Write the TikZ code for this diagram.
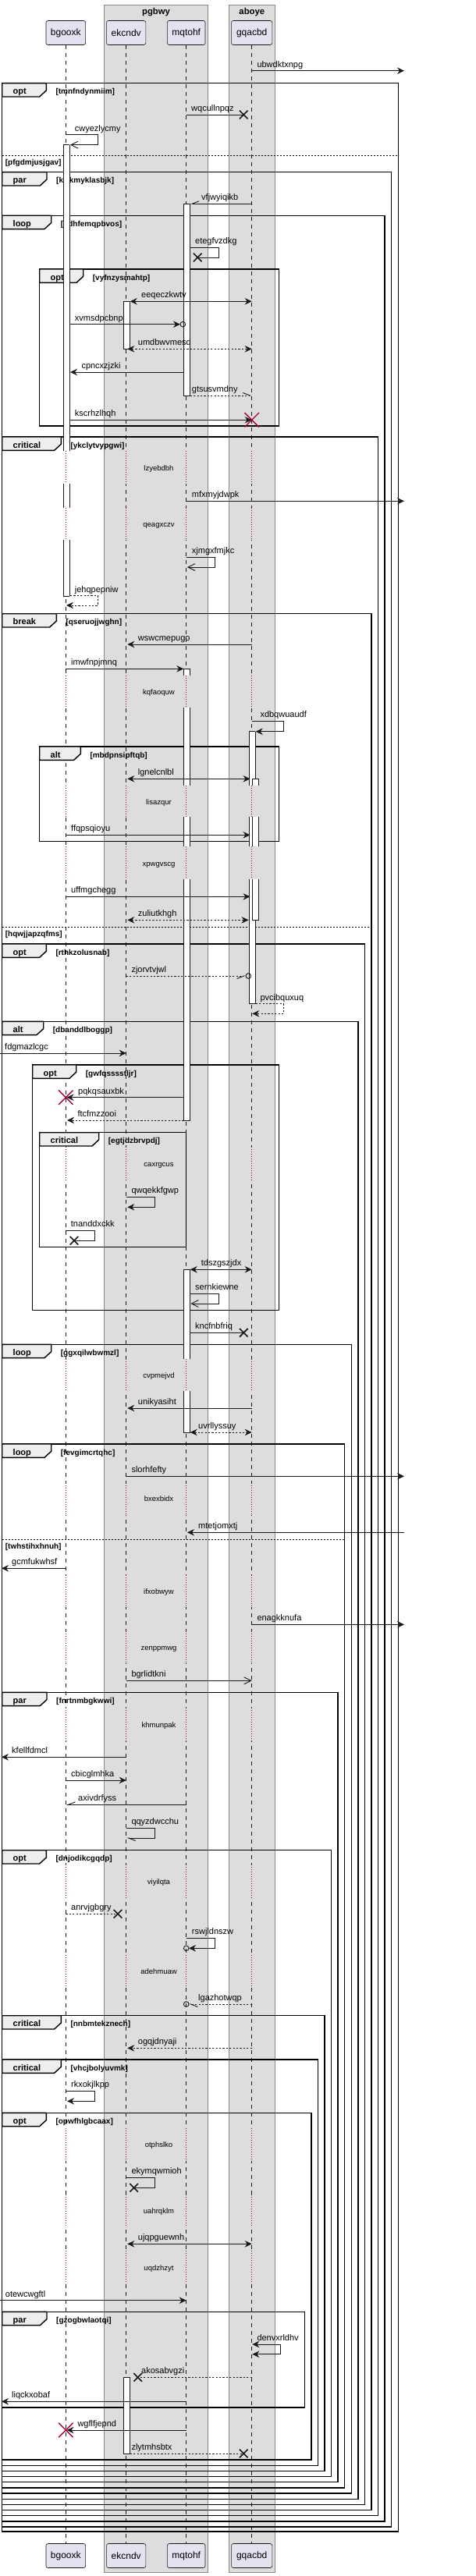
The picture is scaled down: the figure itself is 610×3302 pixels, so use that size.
\documentclass[tikz,border=0pt]{standalone}
\usepackage{fontspec}
\setmainfont{Liberation Sans}
\usetikzlibrary{arrows.meta,shapes.misc}
\definecolor{partfill}{HTML}{E2E2F0}
\definecolor{boxfill}{HTML}{DDDDDD}
\definecolor{boxline}{HTML}{888888}
\definecolor{ink}{HTML}{181818}
\definecolor{crim}{HTML}{A80036}
\definecolor{tabfill}{HTML}{EEEEEE}
\tikzset{
  part/.style={draw=ink, fill=partfill, rounded corners=2.5pt, line width=0.6pt, minimum height=31pt, inner sep=0pt, font=\fontsize{12}{14}\selectfont},
  grpbox/.style={draw=boxline, fill=boxfill, line width=0.9pt},
  gtitle/.style={inner sep=0pt, font=\bfseries\fontsize{11.3}{13}\selectfont},
  lifeline/.style={draw=ink, line width=0.5pt, dash pattern=on 5pt off 5pt},
  delayline/.style={draw=crim, line width=0.6pt, dash pattern=on 1pt off 2pt},
  msg/.style={draw=ink, line width=0.9pt},
  dsh/.style={dash pattern=on 2.2pt off 2.2pt},
  fh/.style={arrows={-Stealth[length=9pt,width=8.5pt,inset=3pt]}},
  bh/.style={arrows={Stealth[length=9pt,width=8.5pt,inset=3pt]-Stealth[length=9pt,width=8.5pt,inset=3pt]}},
  oh/.style={arrows={-Straight Barb[length=9pt,width=9pt]}},
  hA/.style={arrows={-Straight Barb[length=9pt,width=7pt,harpoon]}},
  hB/.style={arrows={-Straight Barb[length=9pt,width=7pt,harpoon,swap]}},
  lbl/.style={anchor=base west, inner sep=0pt, font=\fontsize{11}{13}\selectfont},
  kwtxt/.style={anchor=base west, inner sep=0pt, font=\bfseries\fontsize{11}{13}\selectfont},
  condtxt/.style={anchor=base west, inner sep=0pt, font=\bfseries\fontsize{10}{12}\selectfont},
  dtxt/.style={anchor=base, inner sep=0pt, font=\fontsize{9.5}{11}\selectfont},
  frm/.style={draw=black, line width=1.4pt},
  elsel/.style={draw=black, line width=0.9pt, dash pattern=on 2pt off 2pt},
  bar/.style={draw=ink, line width=0.8pt},
  lostx/.style={cross out, draw=ink, line width=1.6pt, minimum size=9pt, inner sep=0pt},
  killx/.style={cross out, draw=crim, line width=1.4pt, minimum size=17pt, inner sep=0pt},
  circ/.style={circle, draw=ink, line width=0.9pt, minimum size=6.6pt, inner sep=0pt},
}
\newcommand\seqmsg[7]{%
  \coordinate (#1s) at (#3,#2);
  \coordinate (#1e) at (#4,#2);
  \draw[msg,#5] (#1s) -- (#1e);
  \node[lbl] (#1) at (#7,{#2-4.6}) {#6};}
\newcommand\selfmsg[9]{%
  \coordinate (#1s) at (#2,#3);
  \coordinate (#1e) at (#6,#5);
  \draw[msg,#7] (#1s) -- (#4,#3) -- (#4,#5) -- (#1e);
  \node[lbl] (#1) at (#9,{#3-4.6}) {#8};}
\newcommand\frag[8]{%
  \draw[frm] (#2,#3) rectangle (#4,#5);
  \draw[frm,fill=tabfill] (#2,#3) -- ({#2+#6},#3) -- ({#2+#6},{#3+9.3}) -- ({#2+#6-8.7},{#3+17.3}) -- (#2,{#3+17.3}) -- cycle;
  \node[kwtxt] (#1k) at ({#2+13.8},{#3+14}) {#7};
  \node[condtxt] (#1c) at ({#2+#6+12},{#3+14}) {#8};}
\newcommand\elsesep[5]{%
  \draw[elsel] (#2,#4) -- (#3,#4);
  \node[condtxt] (#1) at (6.7,{#4+12.4}) {#5};}
\newcommand\delayrow[5]{%
  \fill[white] (83.1,#2) rectangle (85.5,#3);
  \fill[boxfill] (160.5,#2) rectangle (162.9,#3);
  \fill[boxfill] (237.5,#2) rectangle (239.9,#3);
  \fill[boxfill] (321.5,#2) rectangle (323.9,#3);
  \draw[delayline] (84.3,#2) -- (84.3,#3) (161.7,#2) -- (161.7,#3) (238.7,#2) -- (238.7,#3) (322.7,#2) -- (322.7,#3);
  \node[dtxt] (#1) at (203.5,{#4+3.3}) {#5};}
\newcommand\actseg[3]{%
  \fill[white] (#1,#2) rectangle ({#1+8.4},#3);
  \draw[bar] (#1,#2) -- (#1,#3) ({#1+8.4},#2) -- ({#1+8.4},#3);}
\newcommand\actcap[2]{\draw[bar] (#1,#2) -- ({#1+8.4},#2);}
\begin{document}
\begin{tikzpicture}[x=1pt,y=-1pt]
\useasboundingbox (0,0) rectangle (610,3302);
\fill[white] (0,0) rectangle (610,3302);
% group boxes
\draw[grpbox] (133.3,6) rectangle (266.7,3297.3);
\draw[grpbox] (293.3,6) rectangle (352.3,3297.3);
\node[gtitle] (g1) at (200,15.5) {pgbwy};
\node[gtitle] (g2) at (322.8,15.5) {aboye};
% participants
\node[part, minimum width=50.7pt] (pA) at (84.3,42) {bgooxk};
\node[part, minimum width=50.3pt] (pB) at (161.7,42) {ekcndv};
\node[part, minimum width=48.6pt] (pC) at (238.7,42) {mqtohf};
\node[part, minimum width=52.3pt] (pD) at (322.7,42) {gqacbd};
\node[part, minimum width=50.7pt] (qA) at (84.3,3276) {bgooxk};
\node[part, minimum width=50.3pt] (qB) at (161.7,3276) {ekcndv};
\node[part, minimum width=48.6pt] (qC) at (238.7,3276) {mqtohf};
\node[part, minimum width=52.3pt] (qD) at (322.7,3276) {gqacbd};
\draw[lifeline] (pA.south) -- (qA.north);
\draw[lifeline] (pB.south) -- (qB.north);
\draw[lifeline] (pC.south) -- (qC.north);
\draw[lifeline] (pD.south) -- (qD.north);
% delays
\delayrow{d1}{578.3}{620}{600}{lzyebdbh}
\delayrow{d2}{650.7}{691.7}{672.3}{qeagxczv}
\delayrow{d3}{865.7}{907}{887.3}{kqfaoquw}
\delayrow{d4}{1006.7}{1047.3}{1028.3}{lisazqur}
\delayrow{d5}{1085.3}{1127.3}{1107.3}{xpwgvscg}
\delayrow{d6}{1469.7}{1511.7}{1491.7}{caxrgcus}
\delayrow{d7}{1741.7}{1783.3}{1763.3}{cvpmejvd}
\delayrow{d8}{1900.7}{1942.3}{1921}{bxexbidx}
\delayrow{d9}{2018.7}{2060.3}{2040}{ifxobwyw}
\delayrow{d10}{2090.7}{2132.3}{2112.3}{zenppmwg}
\delayrow{d11}{2189.3}{2231}{2210.7}{khmunpak}
\delayrow{d12}{2390}{2432}{2411.7}{viyilqta}
\delayrow{d13}{2506}{2548}{2527.3}{adehmuaw}
\delayrow{d14}{2728}{2770}{2749.3}{otphslko}
\delayrow{d15}{2813}{2855}{2834.3}{uahrqklm}
\delayrow{d16}{2885}{2927}{2906.7}{uqdzhzyt}
% frames
\frag{f1}{2.7}{106.7}{510.7}{3245}{56.6}{opt}{[tmnfndynmiim]}
\elsesep{e1}{2.7}{510.7}{199.3}{[pfgdmjusjgav]}
\frag{f2}{2.7}{220.7}{501.7}{3239}{57.3}{par}{[kwkmyklasbjk]}
\frag{f3}{2.7}{276.3}{493}{3232}{63}{loop}{[pdhfemqpbvos]}
\frag{i1}{50.7}{345}{357.7}{546}{56}{opt}{[vyfnzysmahtp]}
\frag{f4}{2.7}{560}{484.3}{3224.7}{75.6}{critical}{[ykclytvypgwi]}
\frag{f5}{2.7}{786.7}{476}{3217.7}{69.6}{break}{[qseruojjwghn]}
\elsesep{e2}{2.7}{476}{1188.3}{[hqwjjapzqfms]}
\frag{i2}{50.7}{957}{357.7}{1078.7}{52.6}{alt}{[mbdpnsipftqb]}
\frag{f6}{2.7}{1210}{467.3}{3210.3}{56.6}{opt}{[rthkzolusnab]}
\frag{f7}{2.7}{1309.3}{459}{3203.3}{53}{alt}{[dbanddlboggp]}
\frag{i3}{41.7}{1365}{357.7}{1679.3}{56}{opt}{[gwfqsssstljr]}
\frag{i4}{50.7}{1451.7}{238.7}{1598.3}{76}{critical}{[egtjdzbrvpdj]}
\frag{f8}{2.7}{1723.3}{450.3}{3196}{63}{loop}{[ggxqilwbwmzl]}
\frag{f9}{2.7}{1851}{441.7}{3189}{63}{loop}{[fevgimcrtqhc]}
\elsesep{e3}{2.7}{441.7}{1973.3}{[twhstihxhnuh]}
\frag{f10}{2.7}{2169.3}{433}{3181.7}{57.3}{par}{[fnrtnmbgkwwi]}
\frag{f11}{2.7}{2371.7}{424.3}{3174.7}{56.6}{opt}{[dnjodikcgqdp]}
\frag{f12}{2.7}{2583.7}{416}{3167.3}{75.6}{critical}{[nnbmtekznech]}
\frag{f13}{2.7}{2640}{407.3}{3160.3}{75.6}{critical}{[vhcjbolyuvmk]}
\frag{f14}{2.7}{2708.3}{399}{3153}{56.6}{opt}{[opwfhlgbcaax]}
\frag{f15}{2.7}{2963.3}{390.7}{3086}{57.3}{par}{[gzogbwlaotqi]}
% activation bars
\actseg{81}{185.7}{578.3}\actcap{81}{185.7}
\actseg{81}{620}{650.7}
\actseg{81}{691.7}{764.3}\actcap{81}{764.3}
\actseg{235.3}{261.3}{507}\actcap{235.3}{261.3}\actcap{235.3}{507}
\actseg{235.3}{857.3}{865.7}\actcap{235.3}{857.3}
\actseg{235.3}{907}{1006.7}
\actseg{235.3}{1047.3}{1085.3}
\actseg{235.3}{1127.3}{1436}\actcap{235.3}{1436}
\actseg{235.3}{1627.3}{1741.7}\actcap{235.3}{1627.3}
\actseg{235.3}{1783.3}{1836}\actcap{235.3}{1836}
\actseg{158.3}{386.3}{447.3}\actcap{158.3}{386.3}\actcap{158.3}{447.3}
\actseg{158.3}{3047.3}{3145}\actcap{158.3}{3047.3}\actcap{158.3}{3145}
\actseg{319}{937.7}{1006.7}\actcap{319}{937.7}
\actseg{319}{1047.3}{1085.3}
\actseg{319}{1127.3}{1286.7}\actcap{319}{1286.7}
\actseg{323.3}{998.3}{1006.7}\actcap{323.3}{998.3}
\actseg{323.3}{1047.3}{1085.3}
\actseg{323.3}{1127.3}{1179.3}\actcap{323.3}{1179.3}
% messages
\seqmsg{m1}{90.7}{322.7}{518}{fh}{ubwdktxnpg}{329.3}
\seqmsg{m2}{147}{238.7}{312.3}{}{wqcullnpqz}{245}
\node[lostx] (m2x) at (312.3,147) {};
\selfmsg{m3}{84.3}{172.7}{125.3}{185.7}{90}{oh}{cwyezlycmy}{95.7}
\seqmsg{m4}{261.3}{322.7}{243.7}{hB}{vfjwyiqikb}{258}
\selfmsg{m5}{243.7}{317.3}{280}{330}{253.3}{}{etegfvzdkg}{250}
\node[lostx] (m5x) at (253.3,330) {};
\seqmsg{m6}{386.3}{166.7}{322.7}{bh}{eeqeczkwtv}{181}
\seqmsg{m7}{415.7}{90}{231}{fh}{xvmsdpcbnp}{95.7}
\node[circ] (m7o) at (234.3,415.7) {};
\seqmsg{m8}{447.3}{163.3}{322.7}{bh,dsh}{umdbwvmesd}{176.7}
\seqmsg{m9}{477}{235.3}{90}{fh}{cpncxzjzki}{104.3}
\seqmsg{m10}{507}{243.7}{322.7}{hA,dsh}{gtsusvmdny}{245.7}
\seqmsg{m11}{538.3}{90}{322.7}{fh}{kscrhzlhqh}{95.7}
\node[killx] (m11x) at (322.7,538.3) {};
\seqmsg{m12}{642.3}{238.7}{518}{fh}{mfxmyjdwpk}{245.7}
\selfmsg{m13}{238.7}{714.3}{275.7}{727}{240}{oh}{xjmgxfmjkc}{245.7}
\selfmsg{m14}{90}{763.7}{125.3}{776}{85}{fh,dsh}{jehqpepniw}{95.7}
\seqmsg{m15}{826}{322.7}{163.3}{fh}{wswcmepugo}{176.7}
\seqmsg{m16}{857.3}{84.3}{235.3}{fh}{imwfnpjmnq}{91}
\selfmsg{m17}{322.7}{924.3}{363.3}{937.7}{327.7}{fh}{xdbqwuaudf}{333.3}
\seqmsg{m18}{998.3}{163.3}{320.5}{bh}{lgnelcnlbl}{176.7}
\seqmsg{m19}{1070.3}{84.3}{320.5}{fh}{ffqpsqioyu}{91}
\seqmsg{m20}{1149.3}{84.3}{320.5}{fh}{uffmgchegg}{91}
\seqmsg{m21}{1179.3}{163.3}{318.5}{bh,dsh}{zuliutkhgh}{176.7}
\seqmsg{m22}{1251}{161.7}{315}{hB,dsh}{zjorvtvjwl}{168.3}
\node[circ] (m22o) at (318.3,1251) {};
\selfmsg{m23}{327.7}{1286.7}{363.3}{1299.3}{323.3}{fh,dsh}{pvcibquxuq}{333.3}
\seqmsg{m24}{1350}{0}{161.7}{fh}{fdgmazlcgc}{6}
\seqmsg{m25}{1406.7}{235.3}{85.5}{fh}{pqkqsauxbk}{100}
\node[killx] (m25x) at (84.3,1406.7) {};
\seqmsg{m26}{1436}{235.3}{86}{fh,dsh}{ftcfmzzooi}{99.3}
\selfmsg{m27}{161.7}{1534.3}{198.3}{1547.3}{163.3}{fh}{qwqekkfgwp}{168.3}
\selfmsg{m28}{84.3}{1577.3}{121}{1590.3}{95}{}{tnanddxckk}{90.7}
\node[lostx] (m28x) at (95,1590.3) {};
\seqmsg{m29}{1627.3}{243.7}{322.7}{bh}{tdszgszjdx}{257.7}
\selfmsg{m30}{243.7}{1658.3}{280}{1671}{244.3}{oh}{sernkiewne}{250}
\seqmsg{m31}{1708.3}{243.7}{312.3}{}{kncfnbfriq}{250}
\node[lostx] (m31x) at (312.3,1708.3) {};
\seqmsg{m32}{1805}{322.7}{163.3}{fh}{unikyasiht}{176.7}
\seqmsg{m33}{1836}{243.7}{322.7}{bh,dsh}{uvrllyssuy}{254}
\seqmsg{m34}{1892.3}{161.7}{518}{fh}{slorhfefty}{168.3}
\seqmsg{m35}{1964.3}{518}{240}{fh}{mtetjomxtj}{254}
\seqmsg{m36}{2010.3}{84.3}{2}{fh}{gcmfukwhsf}{15}
\seqmsg{m37}{2082.3}{322.7}{518}{fh}{enagkknufa}{329.3}
\seqmsg{m38}{2154.3}{161.7}{322.7}{oh}{bgrlidtkni}{168.3}
\seqmsg{m39}{2252.3}{161.7}{2}{fh}{kfellfdmcl}{15}
\seqmsg{m40}{2282}{84.3}{161.7}{fh}{cbicglmhka}{91}
\seqmsg{m41}{2313.3}{238.7}{85}{hB}{axivdrfyss}{100}
\selfmsg{m42}{161.7}{2343.3}{198.3}{2356}{162.3}{hA}{qqyzdwcchu}{168.3}
\seqmsg{m43}{2453.3}{84.3}{151}{dsh}{anrvjgbgry}{91}
\node[lostx] (m43x) at (151,2453.3) {};
\selfmsg{m44}{238.7}{2484.3}{275.7}{2497.3}{242}{fh}{rswjldnszw}{245.7}
\node[circ] (m44o) at (238.7,2497.3) {};
\seqmsg{m45}{2569}{322.7}{242}{hA,dsh}{lgazhotwqp}{254}
\node[circ] (m45o) at (238.7,2569) {};
\seqmsg{m46}{2625.3}{322.7}{163.3}{fh,dsh}{ogqjdnyaji}{176.7}
\selfmsg{m47}{84.3}{2680.3}{121}{2693.3}{86}{fh}{rkxokjlkpp}{91}
\selfmsg{m48}{161.7}{2791.3}{198.3}{2804.3}{171.7}{}{ekymqwmioh}{168.3}
\node[lostx] (m48x) at (171.7,2804.3) {};
\seqmsg{m49}{2876.3}{163.3}{322.7}{bh}{ujqpguewnh}{176.7}
\seqmsg{m50}{2948.7}{0}{238.7}{fh}{otewcwgftl}{6.7}
\selfmsg{m51}{323.3}{3005}{359.3}{3017.7}{323.3}{bh}{denvxrldhv}{329.3}
\seqmsg{m52}{3047.3}{322.7}{176.7}{dsh}{akosabvgzi}{181}
\node[lostx] (m52x) at (176.7,3047.3) {};
\seqmsg{m53}{3078.3}{238.7}{2}{fh}{liqckxobaf}{15}
\seqmsg{m54}{3115}{238.7}{85.5}{fh}{wgflfjepnd}{99.3}
\node[killx] (m54x) at (84.3,3115) {};
\seqmsg{m55}{3145}{166.7}{312.3}{dsh}{zlytmhsbtx}{168.3}
\node[lostx] (m55x) at (312.3,3145) {};
\end{tikzpicture}
\end{document}
